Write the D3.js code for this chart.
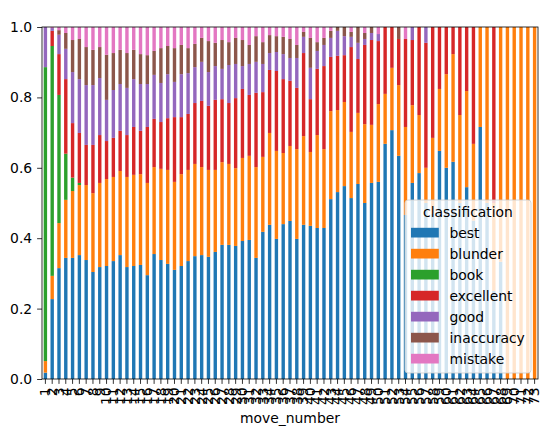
<!DOCTYPE html>
<meta charset="utf-8">
<style>
body{
  margin: 0;
  background: #fff;
}
svg{
  display: block;
  font-family: "DejaVu Sans", sans-serif;
}
</style>

<svg width="551" height="436"></svg>
<script src="https://d3js.org/d3.v7.min.js"></script>
<script>

var moves = [1,2,3,4,5,6,7,8,9,10,11,12,13,14,15,16,17,18,19,20,
  21,22,23,24,25,26,27,28,29,30,31,32,33,34,35,36,37,38,39,40,
  41,42,43,44,45,46,47,48,49,50,51,52,53,54,55,56,57,58,59,60,
  61,62,63,64,65,66,67,68,69,70,71,72,73];

var classes = ["best", "blunder", "book", "excellent", "good", "inaccuracy", "mistake"];
var colors = ["#1f77b4", "#ff7f0e", "#2ca02c", "#d62728", "#9467bd", "#8c564b", "#e377c2"];

var best = [.018,.227,.315,.344,.344,.352,.338,.304,.318,.321,
  .335,.352,.318,.321,.324,.295,.355,.338,.327,.310,
  .321,.335,.349,.352,.347,.361,.381,.381,.378,.392,
  .395,.344,.418,.438,.398,.440,.449,.398,.438,.435,
  .429,.429,.511,.531,.548,.514,.554,.500,.557,.560,
  .668,.707,.634,.466,.557,.585,.500,.470,.648,.600,
  .617,.500,.545,.450,.716,.500,.250,.333,0,0,
  0,0,0];
var blunder = [.033,.066,.128,.165,.190,.199,.213,.224,.239,.247,
  .239,.239,.256,.259,.258,.262,.247,.259,.267,.250,
  .261,.259,.262,.250,.247,.233,.235,.230,.221,.236,
  .239,.258,.213,.261,.250,.202,.213,.255,.252,.210,
  .264,.224,.250,.233,.239,.188,.202,.224,.165,.221,
  .142,.177,.201,.250,.221,.165,.100,.215,.176,.266,
  .306,.250,.273,.218,.284,.500,.250,.667,1,1,
  1,1,1];
var book = [.835,.653,.364,.131,.038,.006,0,0,0,0,
  0,0,0,0,0,0,0,0,0,0,
  0,0,0,0,0,0,0,0,0,0,
  0,0,0,0,0,0,0,0,0,0,
  0,0,0,0,0,0,0,0,0,0,
  0,0,0,0,0,0,0,0,0,0,
  0,0,0,0,0,0,0,0,0,0,
  0,0,0];
var excellent = [0,.043,.116,.212,.155,.142,.114,.137,.136,.108,
  .111,.114,.119,.136,.123,.159,.137,.133,.147,.184,
  .162,.159,.173,.188,.182,.199,.179,.173,.199,.196,
  .173,.211,.184,.179,.227,.210,.185,.174,.236,.150,
  .188,.236,.154,.154,.133,.241,.153,.225,.241,.179,
  .190,.116,.131,.250,.185,.250,.355,.315,.176,.134,
  .077,.250,.182,.332,0,0,.500,0,0,0,
  0,0,0];
var good = [.114,.008,.055,.086,.145,.153,.170,.170,.162,.117,
  .136,.133,.134,.136,.133,.122,.125,.111,.125,.100,
  .122,.116,.102,.111,.096,.096,.086,.108,.097,.065,
  .088,.088,.080,.048,.054,.071,.065,.085,.046,.089,
  .051,.060,.054,.071,.054,.029,.046,.017,.020,.020,
  0,0,0,0,.037,0,.045,0,0,0,
  0,0,0,0,0,0,0,0,0,0,
  0,0,0];
var inaccuracy = [0,0,.013,.045,.091,.114,.108,.100,.088,.128,
  .105,.097,.099,.083,.085,.082,.068,.099,.080,.096,
  .083,.071,.066,.068,.088,.066,.082,.065,.074,.074,
  .054,.073,.062,.051,.045,.049,.054,.037,.014,.085,
  .025,.020,.020,.011,.026,.014,.045,.017,.017,0,
  0,0,.034,0,0,0,0,0,0,0,
  0,0,0,0,0,0,0,0,0,0,
  0,0,0];
var mistake = [0,.003,.009,.017,.037,.034,.057,.065,.057,.079,
  .074,.065,.074,.065,.077,.080,.068,.060,.054,.060,
  .051,.060,.048,.031,.040,.045,.037,.043,.031,.037,
  .051,.026,.043,.023,.026,.028,.034,.051,.014,.031,
  .043,.031,.011,0,0,.014,0,.017,0,.020,
  0,0,0,.034,0,0,0,0,0,0,
  0,0,0,0,0,0,0,0,0,0,
  0,0,0];

var yTicks = [0, 0.2, 0.4, 0.6, 0.8, 1.0];

var series = {best: best, blunder: blunder, book: book, excellent: excellent,
  good: good, inaccuracy: inaccuracy, mistake: mistake};

var rows = moves.map(function(m, i) {
  var r = {move: m};
  classes.forEach(function(c) { r[c] = series[c][i]; });
  return r;
});

var svg = d3.select("svg"),
    plotL = 42, plotR = 538, plotT = 27, plotB = 379,
    fs = 13.9;

var x = d3.scaleBand()
    .domain(moves)
    .range([plotL, plotR])
    .paddingInner(0.5)
    .paddingOuter(0.25);

var y = d3.scaleLinear()
    .domain([0, 1])
    .range([plotB, plotT]);

var color = d3.scaleOrdinal().domain(classes).range(colors);

var stacked = d3.stack().keys(classes)(rows);

svg.append("g")
  .selectAll("g")
  .data(stacked)
  .enter().append("g")
    .attr("fill", function(d) { return color(d.key); })
  .selectAll("rect")
  .data(function(d) { return d; })
  .enter().append("rect")
    .attr("x", function(d) { return x(d.data.move); })
    .attr("width", x.bandwidth())
    .attr("y", function(d) { return y(d[1]); })
    .attr("height", function(d) { return Math.max(0, y(d[0]) - y(d[1])); });

// axes
var xAxis = svg.append("g")
    .attr("transform", "translate(0," + plotB + ")")
    .call(d3.axisBottom(x).tickSizeOuter(0).tickSize(4.9).tickPadding(3.5));
xAxis.select(".domain").remove();
xAxis.selectAll("text")
    .attr("transform", "rotate(-90)")
    .attr("text-anchor", "end")
    .attr("x", -8.4)
    .attr("y", 0)
    .attr("dy", "0.35em");

var yAxis = svg.append("g")
    .attr("transform", "translate(" + plotL + ",0)")
    .call(d3.axisLeft(y).tickValues(yTicks).tickFormat(d3.format(".1f"))
      .tickSizeOuter(0).tickSize(4.9).tickPadding(4.9));
yAxis.select(".domain").remove();

svg.selectAll(".tick line").attr("stroke", "#000").attr("stroke-width", 0.8);
svg.selectAll(".tick text")
    .attr("fill", "#000")
    .style("font-size", fs + "px")
    .style("font-family", "DejaVu Sans");

// frame
svg.append("rect")
    .attr("x", plotL)
    .attr("y", plotT)
    .attr("width", plotR - plotL)
    .attr("height", plotB - plotT)
    .attr("fill", "none")
    .attr("stroke", "#000")
    .attr("stroke-width", 0.8);

svg.append("text")
    .attr("x", (plotL + plotR) / 2)
    .attr("y", 423)
    .attr("text-anchor", "middle")
    .style("font-size", fs + "px")
    .text("move_number");

// legend
var lg = svg.append("g");
lg.append("rect")
    .attr("x", 405)
    .attr("y", 200)
    .attr("width", 126)
    .attr("height", 173)
    .attr("rx", 3)
    .attr("fill", "#fff")
    .attr("fill-opacity", 0.8)
    .attr("stroke", "#cccccc")
    .attr("stroke-width", 0.8);

lg.append("text")
    .attr("x", 468)
    .attr("y", 217)
    .attr("text-anchor", "middle")
    .style("font-size", fs + "px")
    .text("classification");

var item = lg.selectAll(".item")
  .data(classes)
  .enter().append("g")
    .attr("transform", function(d, i) { return "translate(0," + (232.7 + i * 21) + ")"; });

item.append("rect")
    .attr("x", 411)
    .attr("y", -4.9)
    .attr("width", 27.8)
    .attr("height", 9.7)
    .attr("fill", function(d) { return color(d); });

item.append("text")
    .attr("x", 449.5)
    .attr("y", 0)
    .attr("dy", "0.36em")
    .style("font-size", fs + "px")
    .text(function(d) { return d; });

</script>
